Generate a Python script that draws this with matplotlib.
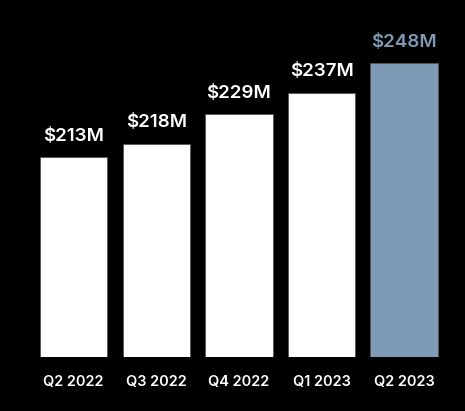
import matplotlib
matplotlib.use("Agg")
import matplotlib.pyplot as plt

quarters = ["Q2 2022", "Q3 2022", "Q4 2022", "Q1 2023", "Q2 2023"]
revenue = [213, 218, 229, 237, 248]
labels = ["$213M", "$218M", "$229M", "$237M", "$248M"]

white = "#ffffff"
blue = "#7f9ab5"
colors = [white, white, white, white, blue]

plt.rcParams['font.family'] = ['Inter', 'DejaVu Sans']

fig = plt.figure(figsize=(4.65, 4.11), dpi=100, facecolor="black")
ax = fig.add_axes([0.0697, 0.132, 0.888, 0.868])
ax.set_facecolor("black")

x = range(len(quarters))
bars = ax.bar(x, revenue, width=0.815, color=colors, edgecolor="#555555", linewidth=0.6)

for b, lab, c in zip(bars, labels, colors):
    ax.annotate(lab, (b.get_x() + b.get_width() / 2, b.get_height()),
                xytext=(0, 9), textcoords="offset points",
                ha="center", va="bottom", color=c, fontsize=13.5, fontweight="semibold")

ax.set_xlim(-0.5, 4.5)
ax.set_ylim(138.8, 271.6)
ax.set_xticks(list(x))
ax.set_xticklabels(quarters, color=white, fontsize=10.5, fontweight="semibold")
ax.tick_params(axis="x", length=0, pad=13)
ax.set_yticks([])
for s in ax.spines.values():
    s.set_visible(False)

fig.savefig("out.png", dpi=100, facecolor="black")
